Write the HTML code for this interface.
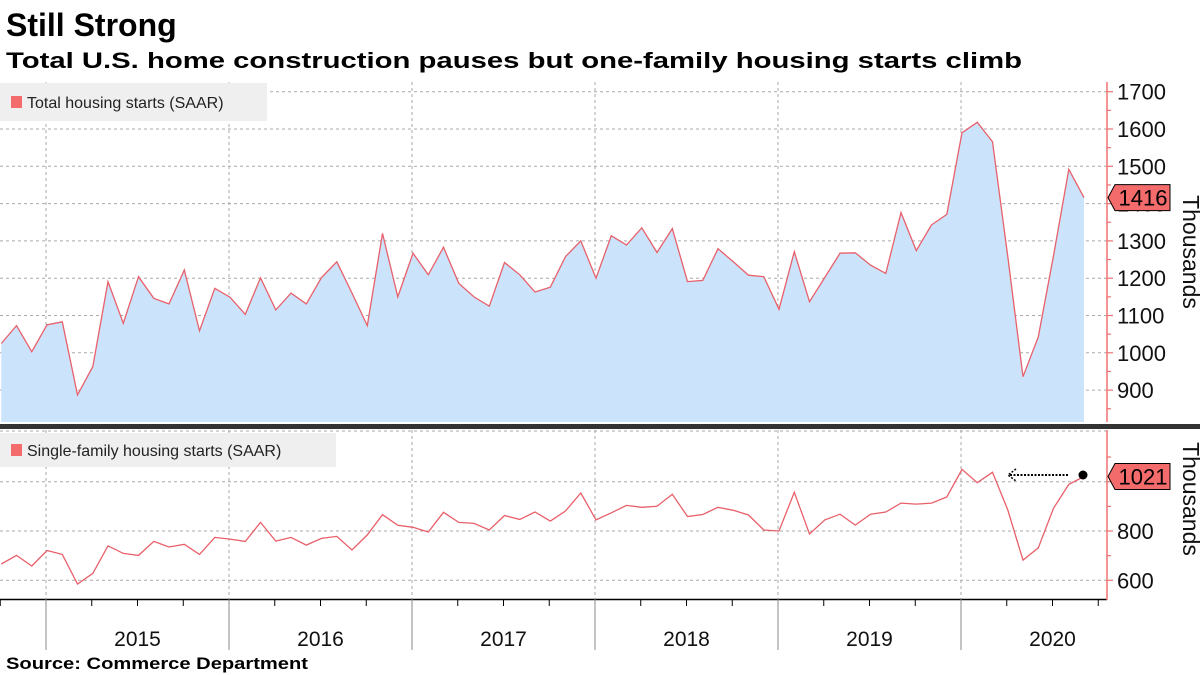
<!DOCTYPE html>
<html><head><meta charset="utf-8"><style>
body{margin:0;background:#fff;width:1200px;height:675px;overflow:hidden;font-family:"Liberation Sans",sans-serif}
svg{display:block}
</style></head><body>
<svg id="chart" width="1200" height="675">
<text x="6" y="36" font-size="32" font-weight="bold" fill="#000">Still Strong</text>
<text x="6" y="68" font-size="22" font-weight="bold" fill="#000" textLength="1016" lengthAdjust="spacingAndGlyphs">Total U.S. home construction pauses but one-family housing starts climb</text>
<text x="6" y="669" font-size="17" font-weight="bold" fill="#000" textLength="302" lengthAdjust="spacingAndGlyphs">Source: Commerce Department</text>
<g id="grid"></g>
<path id="area-total" fill="#cce3fc"/>
<polyline id="line-total" fill="none" stroke="#e8606a" stroke-width="1.3"/>
<polyline id="line-single" fill="none" stroke="#e8606a" stroke-width="1.3"/>
<rect x="0" y="424" width="1200" height="5" fill="#333"/>
<g id="axes"></g>
<rect x="0" y="83" width="267" height="38" fill="#efefef"/>
<rect x="11" y="96" width="11" height="12" fill="#f46b6b"/>
<text x="27" y="108" font-size="16" fill="#222">Total housing starts (SAAR)</text>
<rect x="0" y="433" width="336" height="34" fill="#efefef"/>
<rect x="11" y="444" width="11" height="12" fill="#f46b6b"/>
<text x="27" y="456" font-size="16" fill="#222">Single-family housing starts (SAAR)</text>
<line x1="1010" y1="475" x2="1068" y2="475" stroke="#000" stroke-width="2" stroke-dasharray="2,1.5"/>
<path d="M1016 469 L1008 475 L1016 481" fill="none" stroke="#000" stroke-width="1.5" stroke-dasharray="2,1.5"/>
<circle cx="1083" cy="475" r="4.5" fill="#000"/>
</svg>
<script>
const totalStarts=[1025,1073,1003,1075,1083,887,963,1191,1079,1204,1146,1131,1222,1059,1173,1149,1103,1201,1115,1160,1131,1202,1244,1160,1073,1320,1150,1267,1209,1283,1186,1150,1125,1242,1209,1163,1176,1258,1300,1200,1314,1289,1335,1269,1333,1191,1194,1279,1244,1208,1204,1117,1271,1137,1202,1267,1268,1235,1213,1376,1274,1343,1371,1590,1618,1566,1258,936,1043,1260,1492,1416];
const singleStarts=[666,701,658,721,705,585,628,740,709,701,758,735,746,705,774,767,758,835,759,774,743,770,778,723,784,866,823,815,796,876,835,831,804,863,847,877,840,881,954,845,874,904,896,900,949,859,867,896,884,865,804,800,957,788,845,868,824,868,877,913,909,913,938,1050,996,1038,885,682,732,892,989,1021];
const years=["2015","2016","2017","2018","2019","2020"];
const topTicks=[900,1000,1100,1200,1300,1400,1500,1600,1700];
const botTicks=[600,800,1000];

const NS="http://www.w3.org/2000/svg";
const X0=1.25, MONTH=15.25, FIRST_YEAR_IDX=3;
const xAt=i=>X0+MONTH*i;
const yTop=v=>91.7+(1700-v)*0.373;
const yBot=v=>481.7+(1000-v)*0.2465;
function mk(tag,attrs,parent){const e=document.createElementNS(NS,tag);for(const k in attrs)e.setAttribute(k,attrs[k]);(parent||document.getElementById('chart')).appendChild(e);return e;}
const grid=document.getElementById('grid'), axes=document.getElementById('axes');

topTicks.forEach(v=>{
  const l=mk('line',{x1:0,x2:1107,y1:yTop(v),y2:yTop(v),stroke:'#aaa','stroke-width':1,'stroke-dasharray':'3,3'},grid);
  
  
});
botTicks.concat([1100]).forEach(v=>{
  const y=v===1100?431:yBot(v);
  const l=mk('line',{x1:0,x2:1107,y1:y,y2:y,stroke:'#aaa','stroke-width':1,'stroke-dasharray':'3,3'},grid);
  
  
});
years.forEach((yr,k)=>{
  const x=xAt(FIRST_YEAR_IDX+12*k)-1;
  const g1=mk('line',{x1:x,x2:x,y1:82,y2:422,stroke:'#aaa','stroke-width':1,'stroke-dasharray':'3,3'},grid);
  
  
  const g2=mk('line',{x1:x,x2:x,y1:430,y2:599,stroke:'#aaa','stroke-width':1,'stroke-dasharray':'3,3'},grid);
  
  
  const t=mk('text',{x:x+MONTH*6,y:646,'font-size':21,'text-anchor':'middle',fill:'#111'},axes);
  t.textContent=yr;
  
  
});
// top series
let pts=totalStarts.map((v,i)=>xAt(i).toFixed(1)+','+yTop(v).toFixed(1));
document.getElementById('line-total').setAttribute('points',pts.join(' '));
document.getElementById('area-total').setAttribute('d','M'+xAt(0)+',422 L'+pts.join(' L')+' L'+xAt(totalStarts.length-1)+',422 Z');
document.getElementById('line-single').setAttribute('points',singleStarts.map((v,i)=>xAt(i).toFixed(1)+','+yBot(v).toFixed(1)).join(' '));

// x axis
mk('line',{x1:0,x2:1107,y1:599.5,y2:599.5,stroke:'#000','stroke-width':1.5},axes);
for(let i=0;i<=totalStarts.length+1;i+=3){
  const x=xAt(i)-1, major=(i-FIRST_YEAR_IDX)%12===0;
  const t=mk('line',{x1:x,x2:x,y1:599,y2:major?650:606,stroke:major?'#888':'#000','stroke-width':1},axes);
  
  
}
// right axes
mk('line',{x1:1107,x2:1107,y1:82,y2:422,stroke:'#f07070','stroke-width':1.5},axes);
mk('line',{x1:1107,x2:1107,y1:430,y2:600,stroke:'#f07070','stroke-width':1.5},axes);
for(let v=850;v<=1750;v+=50){const y=yTop(v);if(y<82||y>422)continue;
  const t=mk('line',{x1:1107,x2:v%100===0?1113:1111,y1:y,y2:y,stroke:'#f07070','stroke-width':1.2},axes);
  
  }
for(let v=500;v<=1100;v+=100){const y=yBot(v);if(y<430||y>600)continue;
  const t=mk('line',{x1:1107,x2:v%200===0?1113:1111,y1:y,y2:y,stroke:'#f07070','stroke-width':1.2},axes);
  
  }
topTicks.forEach(v=>{
  const t=mk('text',{x:1117,y:yTop(v)+8,'font-size':22,fill:'#111'},axes);
  t.textContent=v;
  
  
});
botTicks.forEach(v=>{
  const t=mk('text',{x:1117,y:yBot(v)+8,'font-size':22,fill:'#111'},axes);
  t.textContent=v;
  
  
});
function valueTag(v,y,name){
  const p=mk('path',{d:`M1108,${y} L1115,${y-13} L1170,${y-13} L1170,${y+13} L1115,${y+13} Z`,fill:'#f46b6b',stroke:'#000','stroke-width':1},axes);
  
  
  const t=mk('text',{x:1143,y:y+8,'font-size':22,'text-anchor':'middle',fill:'#000'},axes);
  t.textContent=v;
  
  
}
valueTag(totalStarts[totalStarts.length-1],yTop(totalStarts[totalStarts.length-1]),'top-last-value');
valueTag(singleStarts[singleStarts.length-1],yBot(singleStarts[singleStarts.length-1]),'bottom-last-value');
[[252,'top-y-title'],[499,'bottom-y-title']].forEach(([cy,n])=>{
  const t=mk('text',{x:1183,y:cy,'font-size':23,'text-anchor':'middle',fill:'#111',transform:`rotate(90 1183 ${cy})`},axes);
  t.textContent='Thousands';
  
  
});
</script>
</body></html>
